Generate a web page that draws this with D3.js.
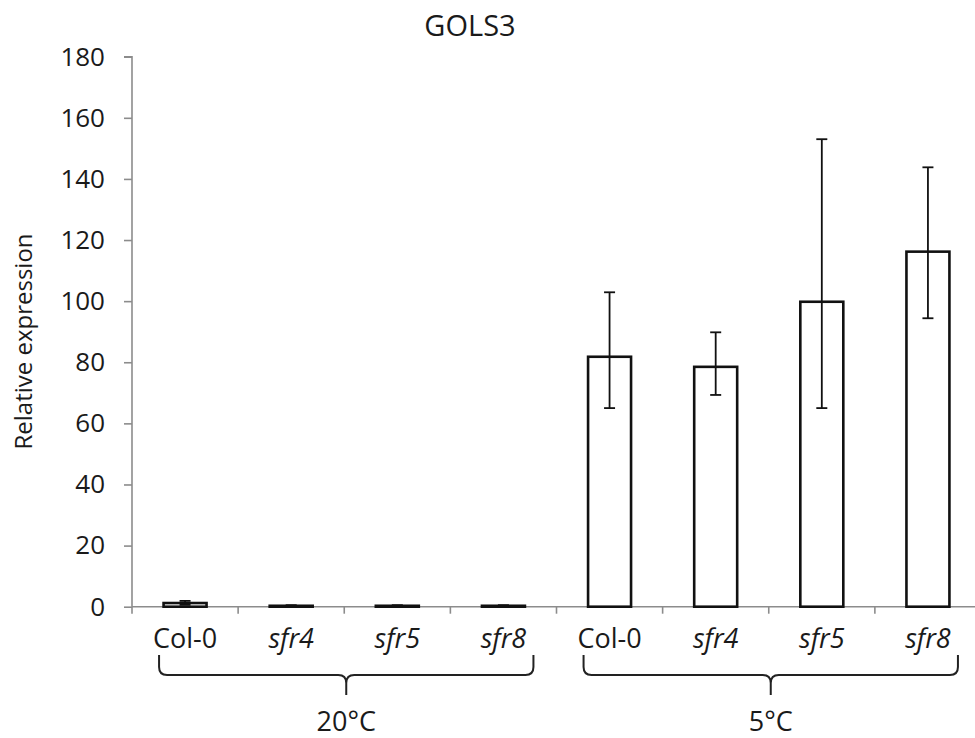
<!DOCTYPE html>
<html>
<head>
<meta charset="utf-8">
<script src="https://cdn.jsdelivr.net/npm/d3@7"></script>
<style>
  html, body { margin: 0; padding: 0; background: #fff; }
  svg { display: block; font-family: "Open Sans", sans-serif; }
</style>
</head>
<body>
<svg id="chart" width="975" height="738"></svg>
<script>
const categories = ["Col-0", "sfr4", "sfr5", "sfr8", "Col-0", "sfr4", "sfr5", "sfr8"];
const italicCat = [false, true, true, true, false, true, true, true];
const values = [1.2, 0.3, 0.3, 0.3, 81.8, 78.5, 99.8, 116.2];
const errLow = [0.6, 0.1, 0.1, 0.1, 65.0, 69.3, 65.0, 94.4];
const errHigh = [1.9, 0.5, 0.5, 0.5, 102.9, 89.8, 153.0, 143.8];
const groups = ["20°C", "5°C"];
const groupStart = [0, 4];
const groupEnd = [3, 7];
const yTicks = [0, 20, 40, 60, 80, 100, 120, 140, 160, 180];
const title = "GOLS3";
const yLabel = "Relative expression";

const svg = d3.select("#chart");
const x0 = 132, x1 = 981, yTop = 56.7, yBot = 606.7;
const x = d3.scaleBand().domain(d3.range(categories.length)).range([x0, x1]).paddingInner(0).paddingOuter(0);
const y = d3.scaleLinear().domain([0, 180]).range([yBot, yTop]);
const barW = x.bandwidth() * 0.405;

// y axis
const yAxis = d3.axisLeft(y).tickValues(yTicks).tickSize(8).tickPadding(19);
const gy = svg.append("g").attr("transform", `translate(${x0},0)`).call(yAxis);
gy.select(".domain").attr("stroke", "#8c8c8c").attr("stroke-width", 1.6).attr("d", `M-8,${yTop}H0V${yBot}`);
gy.selectAll(".tick line").attr("stroke", "#8c8c8c").attr("stroke-width", 1.6);
gy.selectAll(".tick text").attr("font-size", 26).attr("fill", "#1a1a1a").attr("font-family", "Open Sans, sans-serif");

// x axis line and ticks at band boundaries
svg.append("line").attr("x1", x0).attr("x2", 975).attr("y1", yBot).attr("y2", yBot)
  .attr("stroke", "#8c8c8c").attr("stroke-width", 1.6);
const boundaries = d3.range(categories.length + 1).map(i => i < categories.length ? x(i) : x(i - 1) + x.bandwidth());
svg.selectAll(".xt").data(boundaries.filter(b => b <= 975)).join("line")
  .attr("x1", d => d).attr("x2", d => d).attr("y1", yBot).attr("y2", yBot + 7)
  .attr("stroke", "#8c8c8c").attr("stroke-width", 1.6);

// bars
svg.selectAll(".bar").data(values).join("rect")
  .attr("x", (d, i) => x(i) + x.bandwidth() / 2 - barW / 2)
  .attr("width", barW)
  .attr("y", d => y(d))
  .attr("height", d => yBot - y(d))
  .attr("fill", "#fff").attr("stroke", "#111").attr("stroke-width", 2.6);

// error bars
const capW = 11;
const eg = svg.selectAll(".err").data(values).join("g");
eg.append("line")
  .attr("x1", (d, i) => x(i) + x.bandwidth() / 2).attr("x2", (d, i) => x(i) + x.bandwidth() / 2)
  .attr("y1", (d, i) => y(errLow[i])).attr("y2", (d, i) => y(errHigh[i]))
  .attr("stroke", "#111").attr("stroke-width", 1.8);
eg.append("line")
  .attr("x1", (d, i) => x(i) + x.bandwidth() / 2 - capW / 2).attr("x2", (d, i) => x(i) + x.bandwidth() / 2 + capW / 2)
  .attr("y1", (d, i) => y(errHigh[i])).attr("y2", (d, i) => y(errHigh[i]))
  .attr("stroke", "#111").attr("stroke-width", 1.8);
eg.append("line")
  .attr("x1", (d, i) => x(i) + x.bandwidth() / 2 - capW / 2).attr("x2", (d, i) => x(i) + x.bandwidth() / 2 + capW / 2)
  .attr("y1", (d, i) => y(errLow[i])).attr("y2", (d, i) => y(errLow[i]))
  .attr("stroke", "#111").attr("stroke-width", 1.8);

// category labels
svg.selectAll(".cat").data(categories).join("text")
  .attr("x", (d, i) => x(i) + x.bandwidth() / 2)
  .attr("y", 648)
  .attr("text-anchor", "middle")
  .attr("font-size", 27)
  .attr("font-style", (d, i) => italicCat[i] ? "italic" : "normal")
  .attr("fill", "#1a1a1a")
  .text(d => d);

// braces
groups.forEach((g, k) => {
  const left = x(groupStart[k]) + x.bandwidth() / 2 - 26;
  const right = x(groupEnd[k]) + x.bandwidth() / 2 + 30;
  const mid = (left + right) / 2;
  const top = 655, hy = 675, bot = 695, r = 8;
  const p = d3.path();
  p.moveTo(left, top);
  p.lineTo(left, hy - r);
  p.quadraticCurveTo(left, hy, left + r, hy);
  p.lineTo(mid - r, hy);
  p.quadraticCurveTo(mid, hy, mid, hy + r);
  p.lineTo(mid, bot);
  p.moveTo(mid, hy + r);
  p.quadraticCurveTo(mid, hy, mid + r, hy);
  p.lineTo(right - r, hy);
  p.quadraticCurveTo(right, hy, right, hy - r);
  p.lineTo(right, top);
  svg.append("path").attr("d", p.toString()).attr("fill", "none").attr("stroke", "#222").attr("stroke-width", 2);
  svg.append("text").attr("x", mid).attr("y", 731).attr("text-anchor", "middle")
    .attr("font-size", 27).attr("fill", "#1a1a1a").text(g);
});

// title
svg.append("text").attr("x", 470).attr("y", 36).attr("text-anchor", "middle")
  .attr("font-size", 29).attr("fill", "#1a1a1a").text(title);

// y label
svg.append("text").attr("transform", `translate(32,${(230 + 453) / 2}) rotate(-90)`)
  .attr("text-anchor", "middle").attr("font-size", 24).attr("fill", "#1a1a1a").text(yLabel);
</script>
</body>
</html>
